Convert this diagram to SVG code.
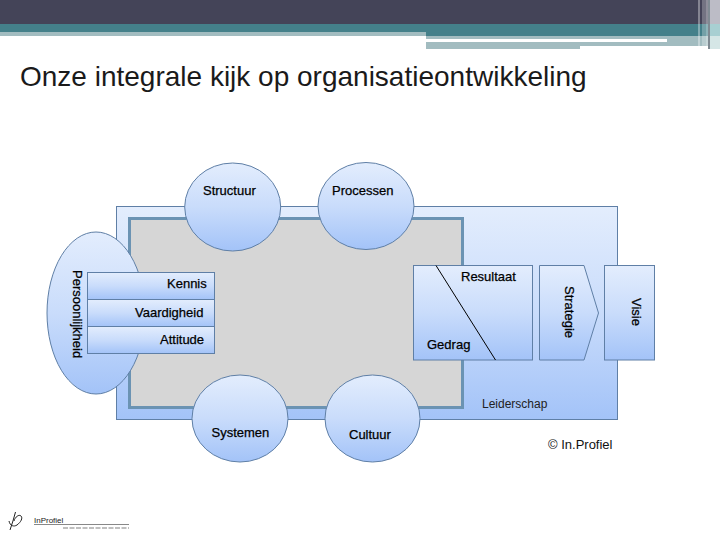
<svg xmlns="http://www.w3.org/2000/svg" width="720" height="540" viewBox="0 0 720 540">
<defs>
<linearGradient id="g" x1="0" y1="0" x2="0" y2="1"><stop offset="0" stop-color="#e3edfd"/><stop offset=".5" stop-color="#c9dcfb"/><stop offset="1" stop-color="#a3c3f8"/></linearGradient>
</defs>
<style>
.s{fill:url(#g);stroke:#5f7fa6;stroke-width:1}
.t{font-family:"Liberation Sans",Arial,sans-serif;font-size:13px;fill:#000;stroke:#000;stroke-width:.25}
.h{fill:#a2bcc0}
</style>
<rect width="720" height="540" fill="#fff"/>
<g id="header">
<rect width="720" height="24" fill="#444458"/>
<rect y="24" width="720" height="12" fill="#44808a"/>
<rect y="32" width="426" height="4" class="h"/>
<rect x="426" y="36" width="282" height="3" class="h"/>
<rect x="426" y="39" width="241" height="3" fill="#fff"/>
<rect x="667" y="39" width="41" height="7" class="h"/>
<rect x="426" y="42" width="241" height="4" class="h"/>
<rect x="426" y="46" width="154" height="3" class="h"/>
<rect x="698" width="2" height="46" fill="#fff" opacity=".35"/>
<rect x="702" width="4" height="46" fill="#fff" opacity=".25"/>
<rect x="706" width="2" height="46" fill="#fff" opacity=".4"/>
<rect x="708" width="2" height="49" fill="#7f8a92"/>
<rect x="710" width="10" height="24" fill="#bcbcc6"/>
<rect x="710" y="24" width="10" height="12" fill="#a8cfd2"/>
<rect x="710" y="36" width="10" height="13" fill="#d5e6e6"/>
</g>
<text id="title" x="20" y="86" font-family="'Liberation Sans',Arial,sans-serif" font-size="28" fill="#1a1a1a">Onze integrale kijk op organisatieontwikkeling</text>
<g id="leiderschap">
<rect x="116.5" y="206.5" width="501" height="213" class="s"/>
<text x="482" y="408" font-family="'Liberation Sans',Arial,sans-serif" font-size="12" fill="#222">Leiderschap</text>
</g>
<rect id="kern" x="129.5" y="218.5" width="333" height="189" fill="#d6d6d6" stroke="#6b93b3" stroke-width="3"/>
<g id="persoonlijkheid">
<ellipse cx="96" cy="313" rx="49" ry="81" class="s"/>
<text class="t" transform="translate(73,270) rotate(90)">Persoonlijkheid</text>
</g>
<g id="kennis"><rect x="87.5" y="272.5" width="127" height="27" class="s"/><text class="t" x="167" y="288">Kennis</text></g>
<g id="vaardigheid"><rect x="87.5" y="299.5" width="127" height="27" class="s"/><text class="t" x="135" y="317">Vaardigheid</text></g>
<g id="attitude"><rect x="87.5" y="326.5" width="127" height="27" class="s"/><text class="t" x="160" y="344">Attitude</text></g>
<g id="resultaat-gedrag">
<rect x="413.5" y="265.5" width="119" height="94.500" class="s"/>
<text class="t" x="461" y="281">Resultaat</text>
<text class="t" x="427" y="349">Gedrag</text>
</g>
<g id="strategie">
<path d="M539.5 265.5H584L598.5 313L584 360H539.5Z" class="s"/>
<text class="t" transform="translate(565,286) rotate(90)">Strategie</text>
</g>
<g id="visie">
<rect x="604.5" y="265.5" width="50" height="94.500" class="s"/>
<text class="t" transform="translate(632,298) rotate(90)">Visie</text>
</g>
<g id="structuur"><ellipse cx="232.7" cy="207" rx="48" ry="44" class="s"/><text class="t" x="203" y="195">Structuur</text></g>
<g id="processen"><ellipse cx="366" cy="206" rx="48" ry="43.5" class="s"/><text class="t" x="332" y="195">Processen</text></g>
<g id="systemen"><ellipse cx="240" cy="418.5" rx="48" ry="43.5" class="s"/><text class="t" x="211.500" y="437">Systemen</text></g>
<g id="cultuur"><ellipse cx="372.500" cy="418.5" rx="47.500" ry="43.5" class="s"/><text class="t" x="349" y="439">Cultuur</text></g>
<g id="connectors"><path d="M436 265.5L495.500 360" fill="none" stroke="#000" stroke-width="1"/></g>
<text id="copyright" x="548" y="449" font-family="'Liberation Sans',Arial,sans-serif" font-size="13" fill="#111">© In.Profiel</text>
<g id="logo">
<path d="M10 530C12 524 14 518 15.500 512M9 521C10 526 14 527 17 525C21 522 23 518 21 516C19 514 15 517 14 521" fill="none" stroke="#222" stroke-width="1"/>
<text x="34" y="523" font-family="'Liberation Sans',Arial,sans-serif" font-size="8" fill="#222">InProfiel</text>
<path d="M34 524.500H129" stroke="#888" stroke-width="1"/>
<path d="M63 528H129" stroke="#aaa" stroke-width="1.500" stroke-dasharray="5 1.500"/>
</g>
</svg>
